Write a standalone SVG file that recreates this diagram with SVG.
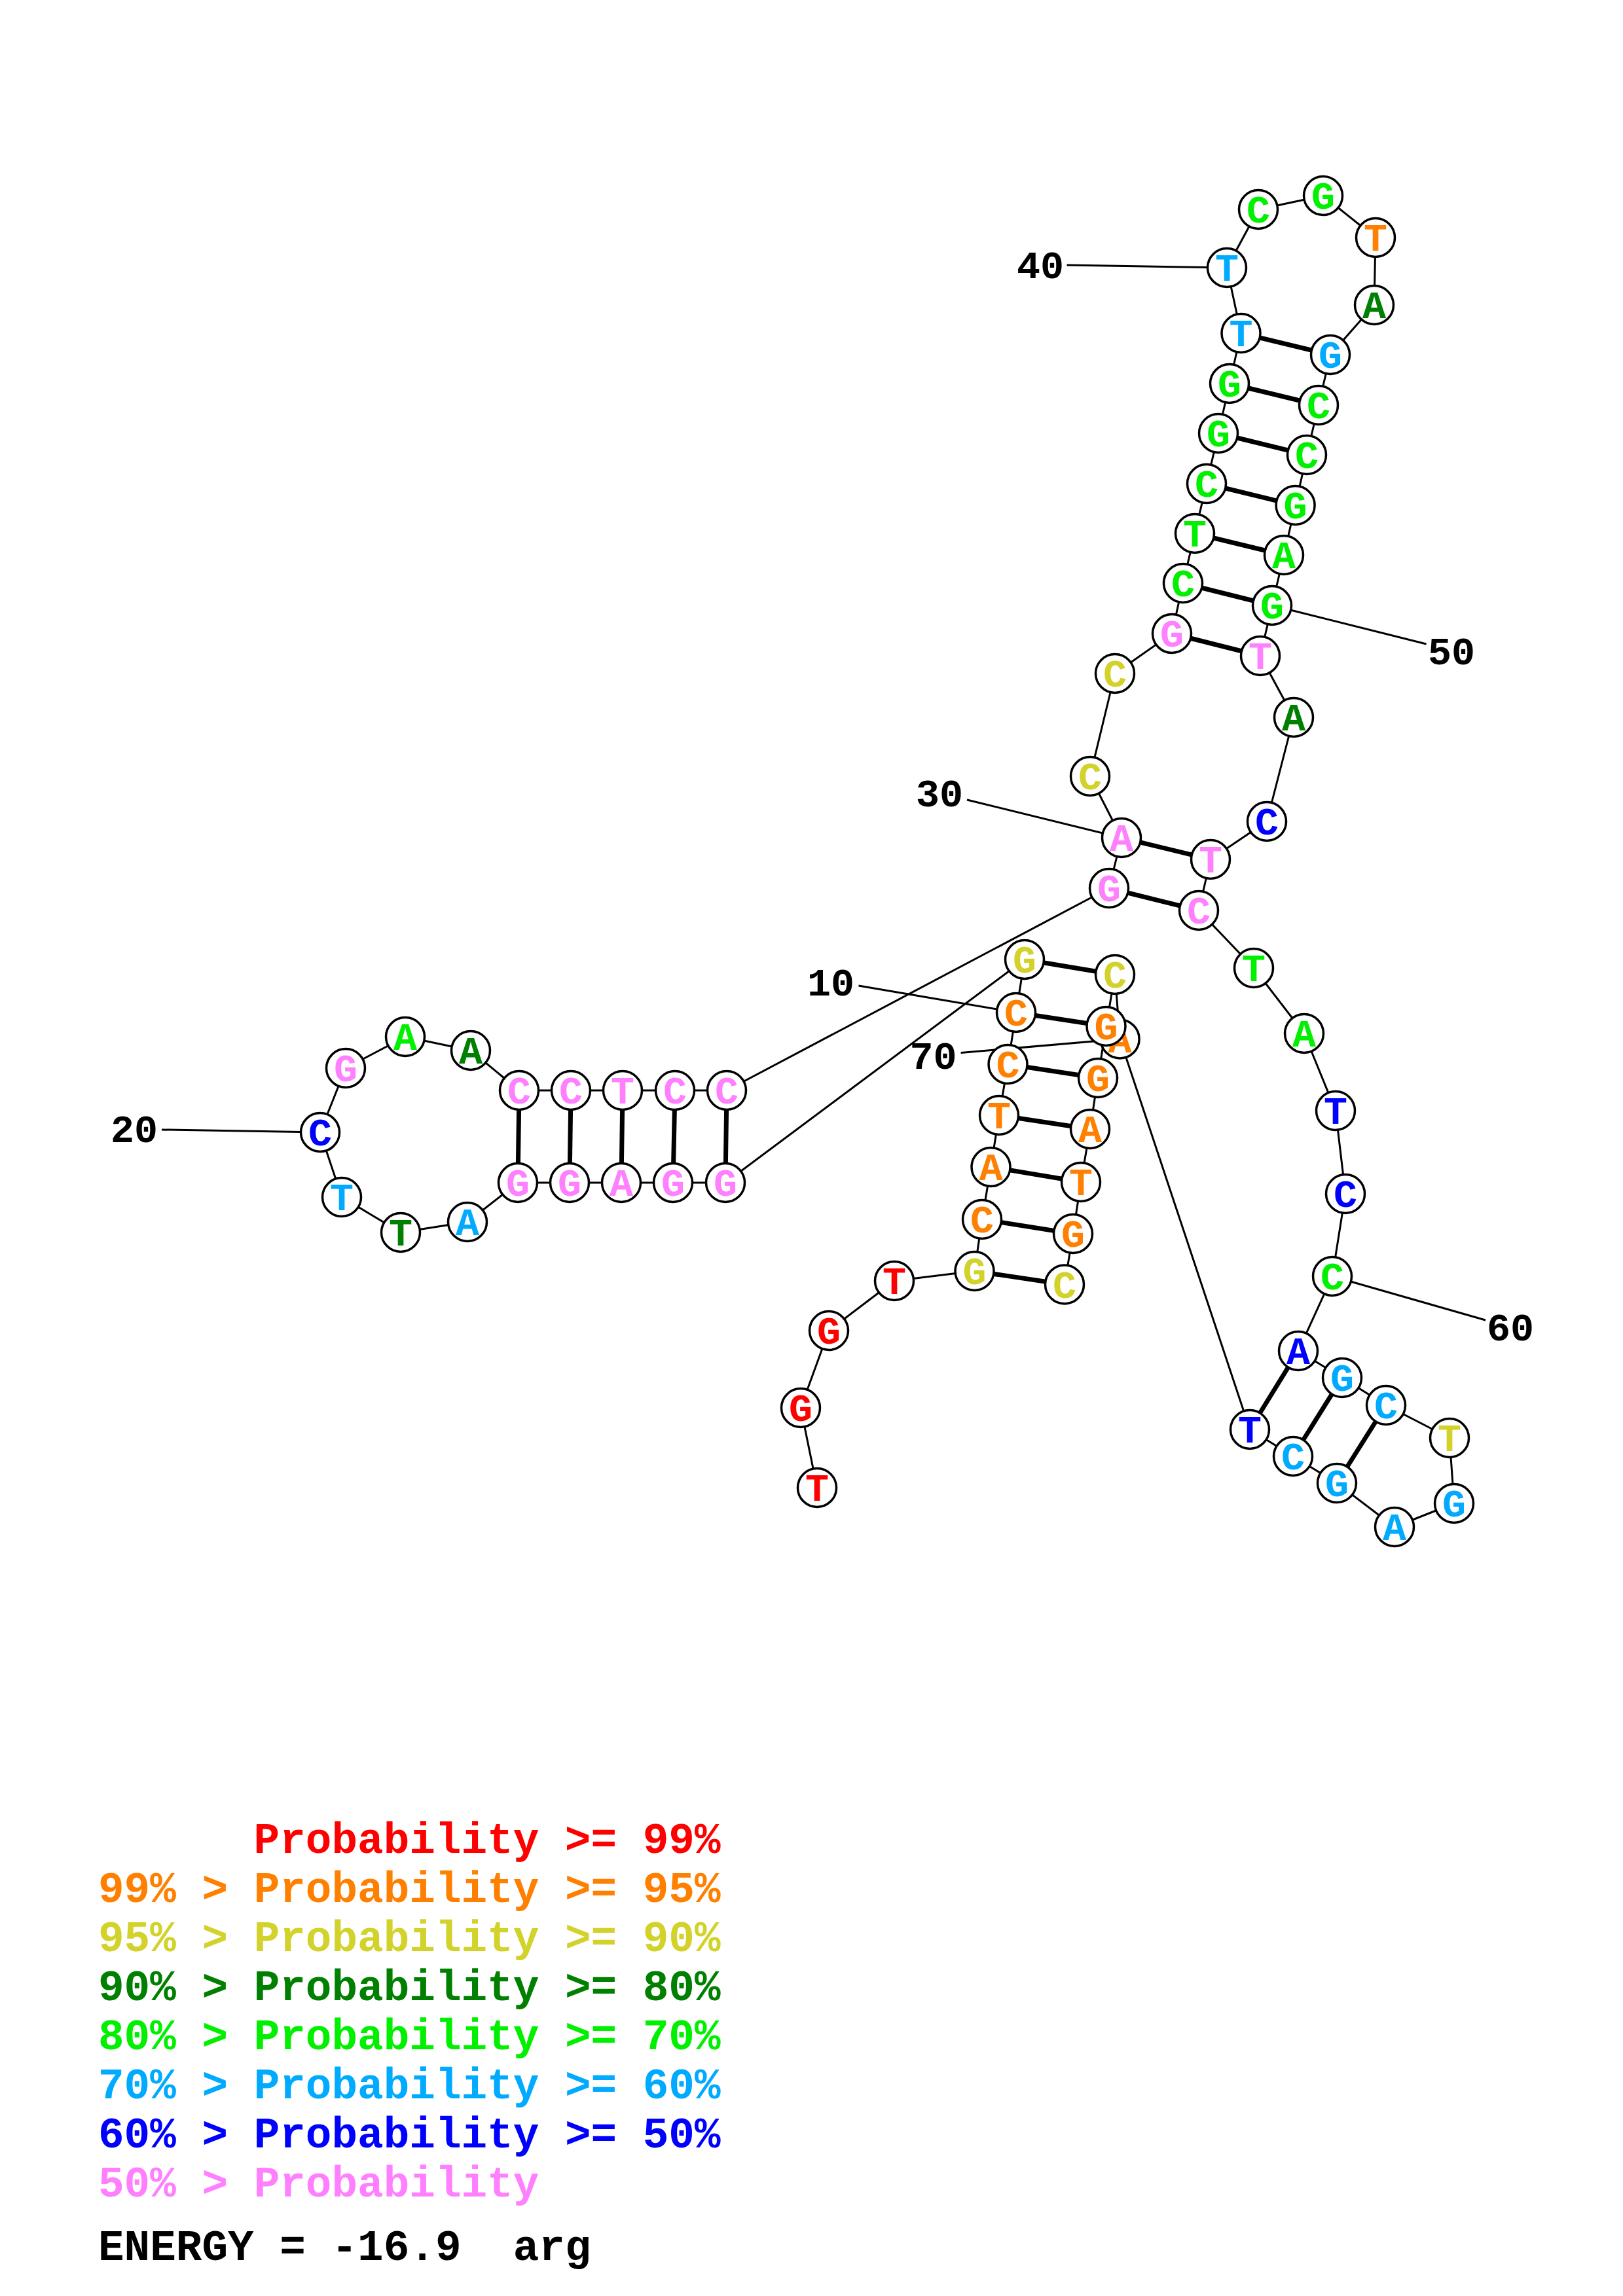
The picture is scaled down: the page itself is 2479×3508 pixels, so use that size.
<svg xmlns="http://www.w3.org/2000/svg" width="2479" height="3508" viewBox="0 0 2479 3508">
<style>
.bb{fill:none;stroke:#000;stroke-width:3;stroke-linejoin:round}
.pr{stroke:#000;stroke-width:7}
.ld{stroke:#000;stroke-width:3}
circle{fill:#fff;stroke:#000;stroke-width:3.5}
.nt{font-family:"Liberation Mono","DejaVu Sans Mono",monospace;font-weight:bold;font-size:60px;text-anchor:middle}
.lb{font-family:"Liberation Mono","DejaVu Sans Mono",monospace;font-weight:bold;font-size:60px;text-anchor:middle;fill:#000}
.lg{font-family:"Liberation Mono","DejaVu Sans Mono",monospace;font-weight:bold;font-size:66px;white-space:pre}
.r{fill:#FF0000}.o{fill:#FF8000}.y{fill:#D2D22A}.dg{fill:#008000}.g{fill:#00F000}.lb2{fill:#00AAFF}.b{fill:#0000FF}.p{fill:#FF80FF}.k{fill:#000}
</style>
<rect x="0" y="0" width="2479" height="3508" fill="#fff"/>
<g id="connectors">
<polyline class="bb" points="1248,2273 1223,2151 1266,2033 1366,1957 1488.5,1942 1500,1863 1513.5,1783 1526,1704 1539.5,1626 1552,1547 1565,1466 1108,1807 1028,1807 949,1807 870,1807 791,1807 714,1867 612,1883 522,1829 489,1730 528,1632 619,1584 719,1605 793,1666 872,1666 951,1666 1031,1666 1110,1666 1694,1357 1713,1280 1665,1186 1703,1029 1790,968 1807,891 1825,815 1843,739 1861,662 1878,586 1895.5,509 1874,409 1922,320 2021,299 2101,363 2099,466 2032,542 2014,619 1996,695 1978.6,772 1961,848 1943,925 1925,1002 1976,1096 1935,1255 1849,1313 1831,1391 1915,1479 1992,1579 2040,1697 2055,1824 2035,1950 1983,2064 2050,2105 2117,2147 2214,2197 2221,2297 2130,2333 2042,2266 1975,2225 1909,2184 1710.6,1587.5 1703,1489 1689.5,1568 1677,1647 1665,1725 1651,1806 1639,1885 1626,1962.5"/>
<line class="pr" x1="1488.5" y1="1942" x2="1626" y2="1962.5"/>
<line class="pr" x1="1500" y1="1863" x2="1639" y2="1885"/>
<line class="pr" x1="1513.5" y1="1783" x2="1651" y2="1806"/>
<line class="pr" x1="1526" y1="1704" x2="1665" y2="1725"/>
<line class="pr" x1="1539.5" y1="1626" x2="1677" y2="1647"/>
<line class="pr" x1="1552" y1="1547" x2="1689.5" y2="1568"/>
<line class="pr" x1="1565" y1="1466" x2="1703" y2="1489"/>
<line class="pr" x1="1108" y1="1807" x2="1110" y2="1666"/>
<line class="pr" x1="1028" y1="1807" x2="1031" y2="1666"/>
<line class="pr" x1="949" y1="1807" x2="951" y2="1666"/>
<line class="pr" x1="870" y1="1807" x2="872" y2="1666"/>
<line class="pr" x1="791" y1="1807" x2="793" y2="1666"/>
<line class="pr" x1="1694" y1="1357" x2="1831" y2="1391"/>
<line class="pr" x1="1713" y1="1280" x2="1849" y2="1313"/>
<line class="pr" x1="1790" y1="968" x2="1925" y2="1002"/>
<line class="pr" x1="1807" y1="891" x2="1943" y2="925"/>
<line class="pr" x1="1825" y1="815" x2="1961" y2="848"/>
<line class="pr" x1="1843" y1="739" x2="1978.6" y2="772"/>
<line class="pr" x1="1861" y1="662" x2="1996" y2="695"/>
<line class="pr" x1="1878" y1="586" x2="2014" y2="619"/>
<line class="pr" x1="1895.5" y1="509" x2="2032" y2="542"/>
<line class="pr" x1="1983" y1="2064" x2="1909" y2="2184"/>
<line class="pr" x1="2050" y1="2105" x2="1975" y2="2225"/>
<line class="pr" x1="2117" y1="2147" x2="2042" y2="2266"/>
<line class="ld" x1="1311.5" y1="1506" x2="1552" y2="1547"/>
<line class="ld" x1="247" y1="1726" x2="489" y2="1730"/>
<line class="ld" x1="1477" y1="1222" x2="1713" y2="1280"/>
<line class="ld" x1="1629.5" y1="405" x2="1874" y2="409"/>
<line class="ld" x1="2178.6" y1="984" x2="1943" y2="925"/>
<line class="ld" x1="2269" y1="2017" x2="2035" y2="1950"/>
<line class="ld" x1="1467.6" y1="1608.5" x2="1710.6" y2="1587.5"/>
</g>
<g id="labels">
<text class="lb" x="1269" y="1521">10</text>
<text class="lb" x="205" y="1745">20</text>
<text class="lb" x="1435" y="1232">30</text>
<text class="lb" x="1589" y="425">40</text>
<text class="lb" x="2217" y="1015">50</text>
<text class="lb" x="2307" y="2048">60</text>
<text class="lb" x="1425.5" y="1633">70</text>
</g>
<g id="n1"><circle cx="1248" cy="2273" r="29.5"/><text class="nt r" x="1248" y="2293">T</text></g>
<g id="n2"><circle cx="1223" cy="2151" r="29.5"/><text class="nt r" x="1223" y="2171">G</text></g>
<g id="n3"><circle cx="1266" cy="2033" r="29.5"/><text class="nt r" x="1266" y="2053">G</text></g>
<g id="n4"><circle cx="1366" cy="1957" r="29.5"/><text class="nt r" x="1366" y="1977">T</text></g>
<g id="n5"><circle cx="1488.5" cy="1942" r="29.5"/><text class="nt y" x="1488.5" y="1962">G</text></g>
<g id="n6"><circle cx="1500" cy="1863" r="29.5"/><text class="nt o" x="1500" y="1883">C</text></g>
<g id="n7"><circle cx="1513.5" cy="1783" r="29.5"/><text class="nt o" x="1513.5" y="1803">A</text></g>
<g id="n8"><circle cx="1526" cy="1704" r="29.5"/><text class="nt o" x="1526" y="1724">T</text></g>
<g id="n9"><circle cx="1539.5" cy="1626" r="29.5"/><text class="nt o" x="1539.5" y="1646">C</text></g>
<g id="n10"><circle cx="1552" cy="1547" r="29.5"/><text class="nt o" x="1552" y="1567">C</text></g>
<g id="n11"><circle cx="1565" cy="1466" r="29.5"/><text class="nt y" x="1565" y="1486">G</text></g>
<g id="n12"><circle cx="1108" cy="1807" r="29.5"/><text class="nt p" x="1108" y="1827">G</text></g>
<g id="n13"><circle cx="1028" cy="1807" r="29.5"/><text class="nt p" x="1028" y="1827">G</text></g>
<g id="n14"><circle cx="949" cy="1807" r="29.5"/><text class="nt p" x="949" y="1827">A</text></g>
<g id="n15"><circle cx="870" cy="1807" r="29.5"/><text class="nt p" x="870" y="1827">G</text></g>
<g id="n16"><circle cx="791" cy="1807" r="29.5"/><text class="nt p" x="791" y="1827">G</text></g>
<g id="n17"><circle cx="714" cy="1867" r="29.5"/><text class="nt lb2" x="714" y="1887">A</text></g>
<g id="n18"><circle cx="612" cy="1883" r="29.5"/><text class="nt dg" x="612" y="1903">T</text></g>
<g id="n19"><circle cx="522" cy="1829" r="29.5"/><text class="nt lb2" x="522" y="1849">T</text></g>
<g id="n20"><circle cx="489" cy="1730" r="29.5"/><text class="nt b" x="489" y="1750">C</text></g>
<g id="n21"><circle cx="528" cy="1632" r="29.5"/><text class="nt p" x="528" y="1652">G</text></g>
<g id="n22"><circle cx="619" cy="1584" r="29.5"/><text class="nt g" x="619" y="1604">A</text></g>
<g id="n23"><circle cx="719" cy="1605" r="29.5"/><text class="nt dg" x="719" y="1625">A</text></g>
<g id="n24"><circle cx="793" cy="1666" r="29.5"/><text class="nt p" x="793" y="1686">C</text></g>
<g id="n25"><circle cx="872" cy="1666" r="29.5"/><text class="nt p" x="872" y="1686">C</text></g>
<g id="n26"><circle cx="951" cy="1666" r="29.5"/><text class="nt p" x="951" y="1686">T</text></g>
<g id="n27"><circle cx="1031" cy="1666" r="29.5"/><text class="nt p" x="1031" y="1686">C</text></g>
<g id="n28"><circle cx="1110" cy="1666" r="29.5"/><text class="nt p" x="1110" y="1686">C</text></g>
<g id="n29"><circle cx="1694" cy="1357" r="29.5"/><text class="nt p" x="1694" y="1377">G</text></g>
<g id="n30"><circle cx="1713" cy="1280" r="29.5"/><text class="nt p" x="1713" y="1300">A</text></g>
<g id="n31"><circle cx="1665" cy="1186" r="29.5"/><text class="nt y" x="1665" y="1206">C</text></g>
<g id="n32"><circle cx="1703" cy="1029" r="29.5"/><text class="nt y" x="1703" y="1049">C</text></g>
<g id="n33"><circle cx="1790" cy="968" r="29.5"/><text class="nt p" x="1790" y="988">G</text></g>
<g id="n34"><circle cx="1807" cy="891" r="29.5"/><text class="nt g" x="1807" y="911">C</text></g>
<g id="n35"><circle cx="1825" cy="815" r="29.5"/><text class="nt g" x="1825" y="835">T</text></g>
<g id="n36"><circle cx="1843" cy="739" r="29.5"/><text class="nt g" x="1843" y="759">C</text></g>
<g id="n37"><circle cx="1861" cy="662" r="29.5"/><text class="nt g" x="1861" y="682">G</text></g>
<g id="n38"><circle cx="1878" cy="586" r="29.5"/><text class="nt g" x="1878" y="606">G</text></g>
<g id="n39"><circle cx="1895.5" cy="509" r="29.5"/><text class="nt lb2" x="1895.5" y="529">T</text></g>
<g id="n40"><circle cx="1874" cy="409" r="29.5"/><text class="nt lb2" x="1874" y="429">T</text></g>
<g id="n41"><circle cx="1922" cy="320" r="29.5"/><text class="nt g" x="1922" y="340">C</text></g>
<g id="n42"><circle cx="2021" cy="299" r="29.5"/><text class="nt g" x="2021" y="319">G</text></g>
<g id="n43"><circle cx="2101" cy="363" r="29.5"/><text class="nt o" x="2101" y="383">T</text></g>
<g id="n44"><circle cx="2099" cy="466" r="29.5"/><text class="nt dg" x="2099" y="486">A</text></g>
<g id="n45"><circle cx="2032" cy="542" r="29.5"/><text class="nt lb2" x="2032" y="562">G</text></g>
<g id="n46"><circle cx="2014" cy="619" r="29.5"/><text class="nt g" x="2014" y="639">C</text></g>
<g id="n47"><circle cx="1996" cy="695" r="29.5"/><text class="nt g" x="1996" y="715">C</text></g>
<g id="n48"><circle cx="1978.6" cy="772" r="29.5"/><text class="nt g" x="1978.6" y="792">G</text></g>
<g id="n49"><circle cx="1961" cy="848" r="29.5"/><text class="nt g" x="1961" y="868">A</text></g>
<g id="n50"><circle cx="1943" cy="925" r="29.5"/><text class="nt g" x="1943" y="945">G</text></g>
<g id="n51"><circle cx="1925" cy="1002" r="29.5"/><text class="nt p" x="1925" y="1022">T</text></g>
<g id="n52"><circle cx="1976" cy="1096" r="29.5"/><text class="nt dg" x="1976" y="1116">A</text></g>
<g id="n53"><circle cx="1935" cy="1255" r="29.5"/><text class="nt b" x="1935" y="1275">C</text></g>
<g id="n54"><circle cx="1849" cy="1313" r="29.5"/><text class="nt p" x="1849" y="1333">T</text></g>
<g id="n55"><circle cx="1831" cy="1391" r="29.5"/><text class="nt p" x="1831" y="1411">C</text></g>
<g id="n56"><circle cx="1915" cy="1479" r="29.5"/><text class="nt g" x="1915" y="1499">T</text></g>
<g id="n57"><circle cx="1992" cy="1579" r="29.5"/><text class="nt g" x="1992" y="1599">A</text></g>
<g id="n58"><circle cx="2040" cy="1697" r="29.5"/><text class="nt b" x="2040" y="1717">T</text></g>
<g id="n59"><circle cx="2055" cy="1824" r="29.5"/><text class="nt b" x="2055" y="1844">C</text></g>
<g id="n60"><circle cx="2035" cy="1950" r="29.5"/><text class="nt g" x="2035" y="1970">C</text></g>
<g id="n61"><circle cx="1983" cy="2064" r="29.5"/><text class="nt b" x="1983" y="2084">A</text></g>
<g id="n62"><circle cx="2050" cy="2105" r="29.5"/><text class="nt lb2" x="2050" y="2125">G</text></g>
<g id="n63"><circle cx="2117" cy="2147" r="29.5"/><text class="nt lb2" x="2117" y="2167">C</text></g>
<g id="n64"><circle cx="2214" cy="2197" r="29.5"/><text class="nt y" x="2214" y="2217">T</text></g>
<g id="n65"><circle cx="2221" cy="2297" r="29.5"/><text class="nt lb2" x="2221" y="2317">G</text></g>
<g id="n66"><circle cx="2130" cy="2333" r="29.5"/><text class="nt lb2" x="2130" y="2353">A</text></g>
<g id="n67"><circle cx="2042" cy="2266" r="29.5"/><text class="nt lb2" x="2042" y="2286">G</text></g>
<g id="n68"><circle cx="1975" cy="2225" r="29.5"/><text class="nt lb2" x="1975" y="2245">C</text></g>
<g id="n69"><circle cx="1909" cy="2184" r="29.5"/><text class="nt b" x="1909" y="2204">T</text></g>
<g id="n70"><circle cx="1710.6" cy="1587.5" r="29.5"/><text class="nt o" x="1710.6" y="1607.5">A</text></g>
<g id="n71"><circle cx="1703" cy="1489" r="29.5"/><text class="nt y" x="1703" y="1509">C</text></g>
<g id="n72"><circle cx="1689.5" cy="1568" r="29.5"/><text class="nt o" x="1689.5" y="1588">G</text></g>
<g id="n73"><circle cx="1677" cy="1647" r="29.5"/><text class="nt o" x="1677" y="1667">G</text></g>
<g id="n74"><circle cx="1665" cy="1725" r="29.5"/><text class="nt o" x="1665" y="1745">A</text></g>
<g id="n75"><circle cx="1651" cy="1806" r="29.5"/><text class="nt o" x="1651" y="1826">T</text></g>
<g id="n76"><circle cx="1639" cy="1885" r="29.5"/><text class="nt o" x="1639" y="1905">G</text></g>
<g id="n77"><circle cx="1626" cy="1962.5" r="29.5"/><text class="nt y" x="1626" y="1982.5">C</text></g>
<g id="legend">
<text class="lg r" x="387.6" y="2831">Probability &gt;= 99%</text>
<text class="lg o" x="150" y="2906">99% &gt; Probability &gt;= 95%</text>
<text class="lg y" x="150" y="2981">95% &gt; Probability &gt;= 90%</text>
<text class="lg dg" x="150" y="3056">90% &gt; Probability &gt;= 80%</text>
<text class="lg g" x="150" y="3131">80% &gt; Probability &gt;= 70%</text>
<text class="lg lb2" x="150" y="3206">70% &gt; Probability &gt;= 60%</text>
<text class="lg b" x="150" y="3281">60% &gt; Probability &gt;= 50%</text>
<text class="lg p" x="150" y="3356">50% &gt; Probability</text>
<text class="lg k" x="150" y="3453" xml:space="preserve">ENERGY = -16.9  arg</text>
</g>
</svg>
